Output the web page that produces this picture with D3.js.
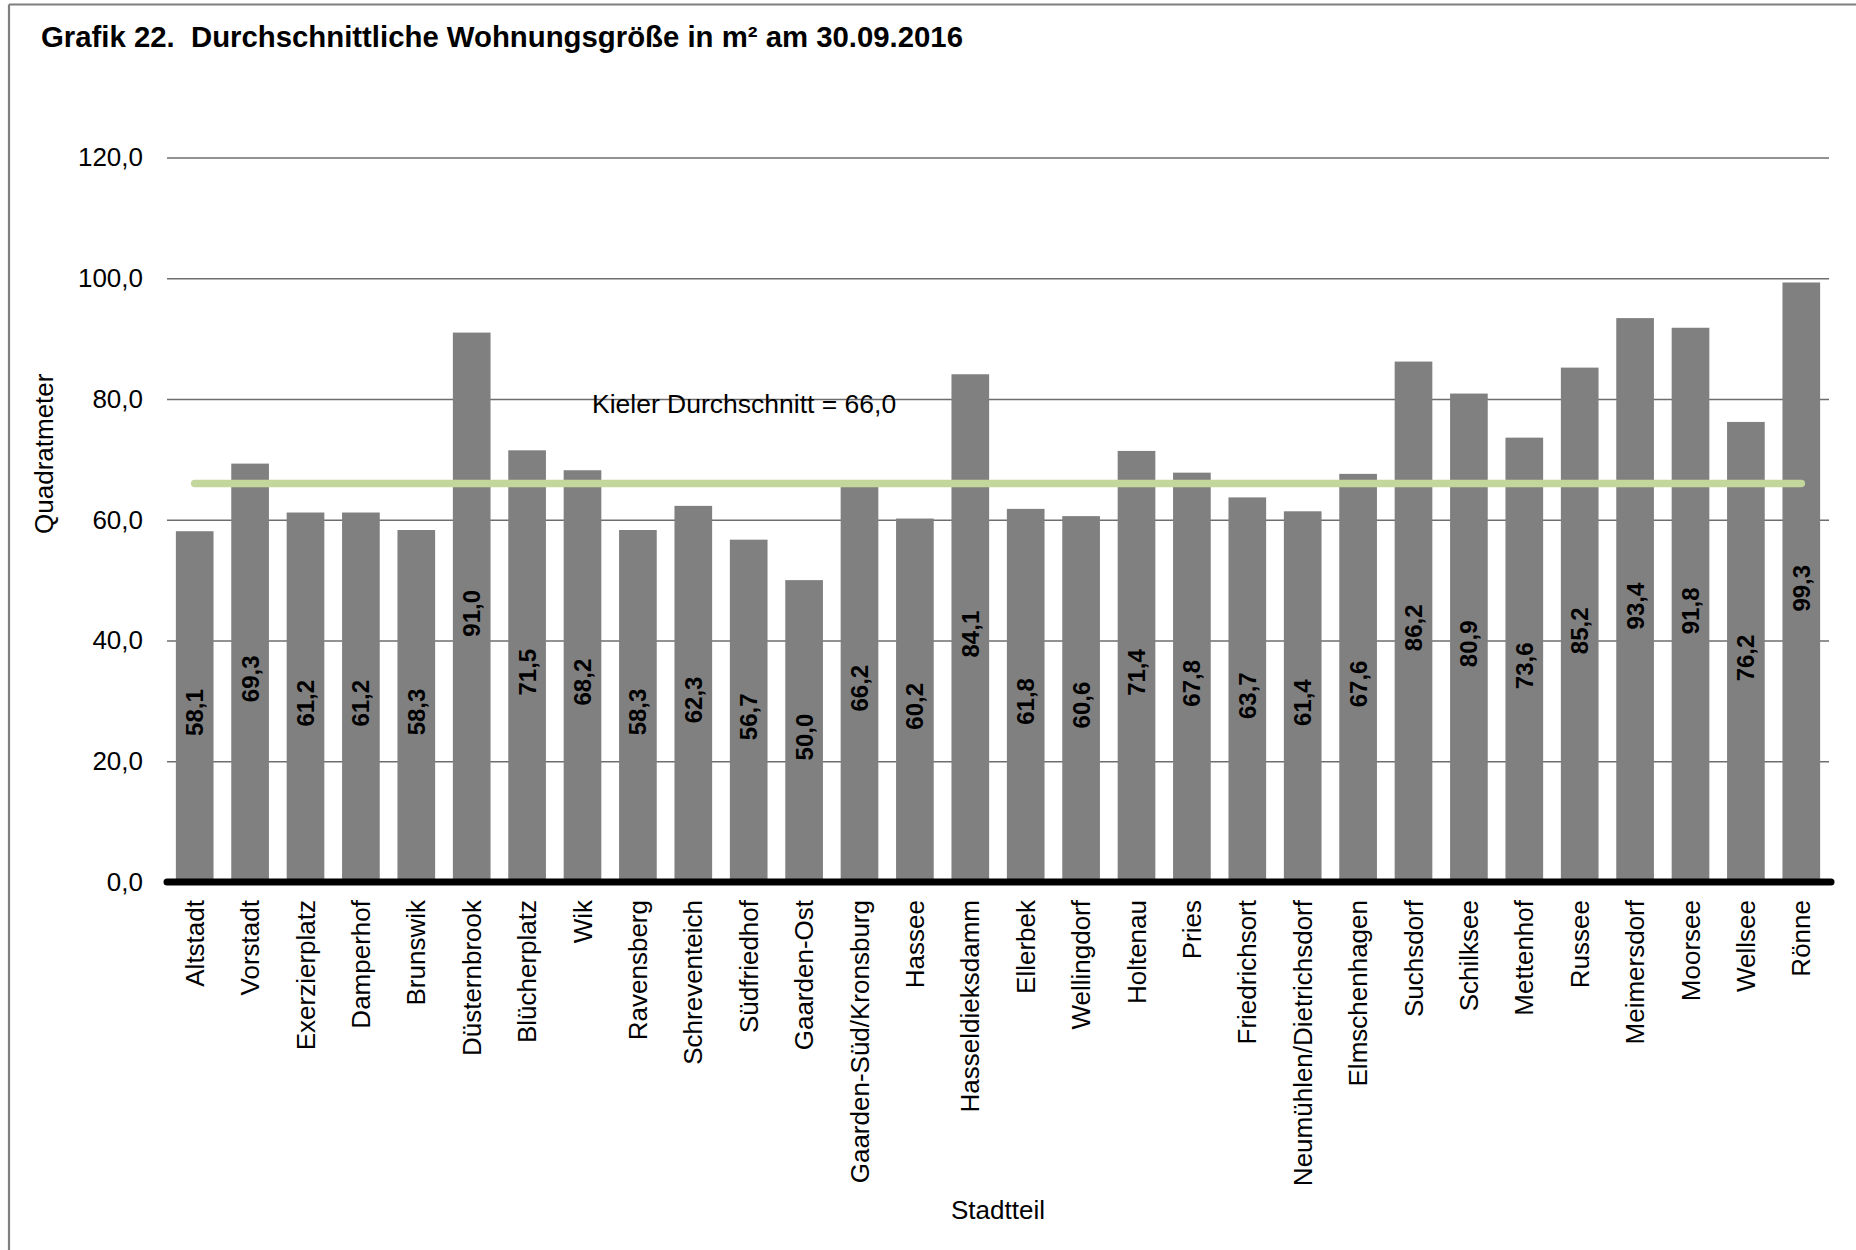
<!DOCTYPE html>
<html>
<head>
<meta charset="utf-8">
<script src="https://cdn.jsdelivr.net/npm/d3@7"></script>
<style>
  html, body { margin: 0; padding: 0; background: #fff; }
  svg { display: block; font-family: "Liberation Sans", Arial, sans-serif; }
  text { white-space: pre; }
</style>
</head>
<body>
<svg id="chart" width="1856" height="1250"></svg>
<script>
const categories = ["Altstadt","Vorstadt","Exerzierplatz","Damperhof","Brunswik","Düsternbrook","Blücherplatz","Wik","Ravensberg","Schreventeich","Südfriedhof","Gaarden-Ost","Gaarden-Süd/Kronsburg","Hassee","Hasseldieksdamm","Ellerbek","Wellingdorf","Holtenau","Pries","Friedrichsort","Neumühlen/Dietrichsdorf","Elmschenhagen","Suchsdorf","Schilksee","Mettenhof","Russee","Meimersdorf","Moorsee","Wellsee","Rönne"];
const values = [58.1,69.3,61.2,61.2,58.3,91.0,71.5,68.2,58.3,62.3,56.7,50.0,66.2,60.2,84.1,61.8,60.6,71.4,67.8,63.7,61.4,67.6,86.2,80.9,73.6,85.2,93.4,91.8,76.2,99.3];
const averageValue = 66.0;
const yTicks = [0,20,40,60,80,100,120];
const titleText = "Grafik 22.  Durchschnittliche Wohnungsgröße in m² am 30.09.2016";
const yAxisTitle = "Quadratmeter";
const xAxisTitle = "Stadtteil";
const averageLabel = "Kieler Durchschnitt = 66,0";

const fmt = v => d3.format(".1f")(v).replace(".", ",");

const svg = d3.select("#chart");
const W = 1856, H = 1250;
const plot = {left: 167, right: 1829, top: 157.5, bottom: 882};

// frame (left and top edges visible)
svg.append("line").attr("x1", 9).attr("x2", 9).attr("y1", 4.5).attr("y2", H)
  .attr("stroke", "#7f7f7f").attr("stroke-width", 2.2);
svg.append("line").attr("x1", 9).attr("x2", W).attr("y1", 4.5).attr("y2", 4.5)
  .attr("stroke", "#7f7f7f").attr("stroke-width", 2.2);

// title
svg.append("text").attr("x", 41).attr("y", 47)
  .attr("font-size", 29).attr("font-weight", "bold").attr("fill", "#000")
  .attr("textLength", 922).attr("lengthAdjust", "spacingAndGlyphs")
  .text(titleText);

const y = d3.scaleLinear().domain([0, 120]).range([plot.bottom, plot.top]);
const x = d3.scaleBand().domain(categories).range([plot.left, plot.right])
  .paddingInner(0.32).paddingOuter(0.16);

// gridlines
const yAxis = d3.axisLeft(y).tickValues(yTicks).tickSize(-(plot.right - plot.left))
  .tickFormat(fmt).tickPadding(24);
const gy = svg.append("g").attr("transform", `translate(${plot.left},0)`).call(yAxis);
gy.select(".domain").remove();
gy.selectAll(".tick line").attr("stroke", "#6e6e6e").attr("stroke-width", 1.3);
gy.selectAll(".tick text").attr("font-size", 26).attr("fill", "#000")
  .attr("font-family", "'Liberation Sans', Arial, sans-serif");

// bars
svg.append("g").selectAll("rect").data(values).join("rect")
  .attr("x", (d, i) => x(categories[i]))
  .attr("width", x.bandwidth())
  .attr("y", d => y(d))
  .attr("height", d => y(0) - y(d))
  .attr("fill", "#808080");

// baseline axis
svg.append("line").attr("x1", plot.left).attr("x2", plot.right + 2)
  .attr("y1", y(0)).attr("y2", y(0))
  .attr("stroke", "#000").attr("stroke-width", 7).attr("stroke-linecap", "round");

// average line
const first = categories[0], last = categories[categories.length - 1];
svg.append("line")
  .attr("x1", x(first) + x.bandwidth() / 2).attr("x2", x(last) + x.bandwidth() / 2)
  .attr("y1", y(averageValue)).attr("y2", y(averageValue))
  .attr("stroke", "#c3d69b").attr("stroke-width", 7.5).attr("stroke-linecap", "round");

// average label
svg.append("text").attr("x", 592).attr("y", y(80) + 14)
  .attr("font-size", 26.5).attr("fill", "#000").text(averageLabel);

// value labels
svg.append("g").selectAll("text").data(values).join("text")
  .attr("transform", (d, i) => `translate(${x(categories[i]) + x.bandwidth() / 2},${(y(d) + y(0)) / 2 + 6}) rotate(-90)`)
  .attr("text-anchor", "middle").attr("dy", "0.35em")
  .attr("font-size", 24).attr("font-weight", "bold").attr("fill", "#000")
  .text(d => fmt(d));

// category labels
svg.append("g").selectAll("text").data(categories).join("text")
  .attr("transform", d => `translate(${x(d) + x.bandwidth() / 2},${plot.bottom + 18}) rotate(-90)`)
  .attr("text-anchor", "end").attr("dy", "0.35em")
  .attr("font-size", 26).attr("fill", "#000")
  .text(d => d);

// axis titles
svg.append("text").attr("transform", `translate(44,${(plot.top + plot.bottom) / 2 - 66}) rotate(-90)`)
  .attr("text-anchor", "middle").attr("dy", "0.35em")
  .attr("font-size", 26).attr("fill", "#000").text(yAxisTitle);
svg.append("text").attr("x", (plot.left + plot.right) / 2).attr("y", 1219)
  .attr("text-anchor", "middle").attr("font-size", 26).attr("fill", "#000").text(xAxisTitle);
</script>
</body>
</html>
